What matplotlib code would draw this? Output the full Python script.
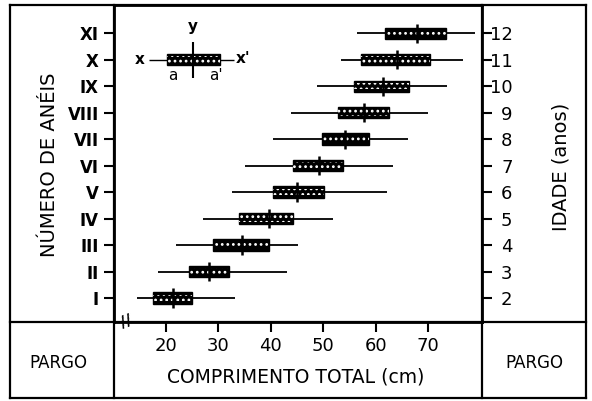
import matplotlib
matplotlib.use("Agg")
import matplotlib.pyplot as plt
from matplotlib.lines import Line2D

# ---- data ----
rings = ['I', 'II', 'III', 'IV', 'V', 'VI', 'VII', 'VIII', 'IX', 'X', 'XI']
ages = ['2', '3', '4', '5', '6', '7', '8', '9', '10', '11', '12']
min_len = [14.5, 18.5, 21.9, 27.1, 32.6, 35.1, 40.4, 43.9, 48.8, 53.4, 56.5]
max_len = [33.2, 43.1, 45.2, 51.9, 62.2, 63.3, 66.2, 70.0, 73.6, 76.7, 78.9]
box_lo = [17.5, 24.4, 29.0, 34.0, 40.4, 44.2, 49.8, 52.8, 55.9, 57.2, 61.8]
box_hi = [25.0, 32.0, 39.7, 44.2, 50.2, 53.8, 58.7, 62.6, 66.4, 70.4, 73.4]
mean_len = [21.3, 28.2, 34.5, 39.6, 45.0, 49.2, 54.2, 57.8, 61.4, 64.1, 67.9]
xticks = [20, 30, 40, 50, 60, 70]

# schematic key (drawn at ring X level)
key_row = 10
key_min, key_max = 16.8, 33.0
key_lo, key_hi = 20.2, 30.3
key_mean = 25.2

W, H = 592, 401
fig = plt.figure(figsize=(W / 100, H / 100), dpi=100)
fig.patch.set_facecolor('white')
plt.rcParams['hatch.linewidth'] = 1.2

def fx(px):
    return px / W

def fy(py):
    return 1 - py / H

ax = fig.add_axes([fx(114), fy(322), fx(482) - fx(114), fy(5) - fy(322)])
ypos = list(range(1, len(rings) + 1))

bh = 0.42
ax.hlines(ypos, min_len, max_len, color='black', lw=1.3, zorder=2)
widths = [h - l for l, h in zip(box_lo, box_hi)]
ax.barh(ypos, widths, left=box_lo, height=bh, color='black',
        edgecolor='black', lw=1.0, zorder=3)
ax.barh(ypos, widths, left=box_lo, height=bh * 0.6, color='none',
        edgecolor='white', hatch='...', lw=0, zorder=4)
ax.vlines(mean_len, [y - 0.36 for y in ypos], [y + 0.36 for y in ypos],
          color='black', lw=1.8, zorder=5)

# key
ax.hlines([key_row], [key_min], [key_max], color='black', lw=1.0, zorder=2)
ax.barh([key_row], [key_hi - key_lo], left=[key_lo], height=bh, color='black',
        edgecolor='black', lw=1.0, zorder=3)
ax.barh([key_row], [key_hi - key_lo], left=[key_lo], height=bh * 0.6,
        color='none', edgecolor='white', hatch='...', lw=0, zorder=4)
ax.vlines([key_mean], [key_row - 0.7], [key_row + 0.65], color='black',
          lw=1.5, zorder=5)
kfs = 11
ax.text(15.0, key_row, 'x', ha='center', va='center', fontsize=kfs, fontweight='bold')
ax.text(34.8, key_row + 0.05, "x'", ha='center', va='center', fontsize=kfs, fontweight='bold')
ax.text(key_mean, 11.25, 'y', ha='center', va='center', fontsize=kfs, fontweight='bold')
ax.text(21.3, 9.4, 'a', ha='center', va='center', fontsize=kfs)
ax.text(29.6, 9.4, "a'", ha='center', va='center', fontsize=kfs)

ax.set_xlim(10.1, 80.3)
ax.set_ylim(0.094, 12.06)

for s in ['left', 'right', 'bottom', 'top']:
    ax.spines[s].set_linewidth(2.0)

ax.set_xticks(xticks)
ax.set_xticklabels([str(t) for t in xticks], fontsize=13)
ax.tick_params(axis='x', direction='out', length=7, width=1.5, pad=4)
ax.set_yticks(ypos)
ax.set_yticklabels(rings, fontsize=12, fontweight='bold')
ax.tick_params(axis='y', direction='out', length=7, width=1.5, pad=4)

ax2 = ax.twinx()
ax2.set_ylim(ax.get_ylim())
ax2.set_yticks(ypos)
ax2.set_yticklabels(ages, fontsize=13)
ax2.tick_params(axis='y', direction='out', length=7, width=1.5, pad=15)
for lab in ax2.get_yticklabels():
    lab.set_ha('right')
for s in ['left', 'right', 'bottom', 'top']:
    ax2.spines[s].set_visible(False)

# axis break mark
ax.text(12.5, 0.094, '//', ha='center', va='center', fontsize=11,
        fontweight='bold', rotation=20, zorder=6)

# frame and dividers
lw = 1.6
lines = [
    ((10, 586), (5, 5)),
    ((10, 586), (398, 398)),
    ((10, 10), (5, 398)),
    ((586, 586), (5, 398)),
    ((10, 586), (322, 322)),
    ((114, 114), (5, 398)),
    ((482, 482), (5, 398)),
]
for xs, ys in lines:
    fig.add_artist(Line2D([fx(x) for x in xs], [fy(y) for y in ys],
                          transform=fig.transFigure, color='black', lw=lw))

fig.text(fx(50), fy(165), 'NÚMERO DE ANÉIS', rotation=90, ha='center',
         va='center', fontsize=14)
fig.text(fx(561), fy(167), 'IDADE (anos)', rotation=90, ha='center',
         va='center', fontsize=14)
fig.text(fx(296), fy(377), 'COMPRIMENTO TOTAL (cm)', ha='center',
         va='center', fontsize=13.5)
fig.text(fx(58), fy(363), 'PARGO', ha='center', va='center', fontsize=12)
fig.text(fx(534), fy(363), 'PARGO', ha='center', va='center', fontsize=12)

fig.savefig('out.png', dpi=100)
